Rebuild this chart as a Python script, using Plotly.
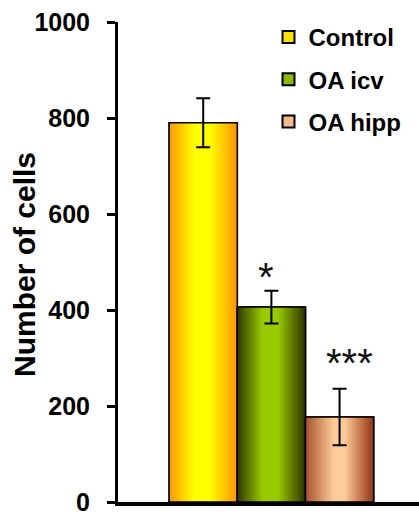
import plotly.graph_objects as go

# ---- data ----
categories = ["Control", "OA icv", "OA hipp"]
values = [790, 406, 177]
errors = [51, 34, 59]
sig_labels = ["", "*", "***"]
y_ticks = [0, 200, 400, 600, 800, 1000]
y_title = "Number of cells"

# ---- styles ----
FONT = "Liberation Sans, Arial, sans-serif"
gradient_stops = {
    "Control": [(0.0, (255, 150, 0)), (0.38, (255, 255, 0)), (0.6, (255, 255, 0)), (1.0, (255, 150, 0))],
    "OA icv": [(0.0, (48, 52, 0)), (0.38, (153, 204, 0)), (0.6, (153, 204, 0)), (1.0, (48, 52, 0))],
    "OA hipp": [(0.0, (165, 80, 45)), (0.42, (255, 204, 153)), (0.58, (255, 204, 153)), (1.0, (150, 55, 20))],
}
legend_colors = {"Control": "#FFE000", "OA icv": "#8DB800", "OA hipp": "#F2B88C"}
label_shift = {"OA icv": (-5, -10), "OA hipp": (10, 2)}
N_STRIPS = 40


def grad_color(stops, t):
    for (t0, c0), (t1, c1) in zip(stops[:-1], stops[1:]):
        if t0 <= t <= t1:
            f = 0 if t1 == t0 else (t - t0) / (t1 - t0)
            c = [round(a + (b - a) * f) for a, b in zip(c0, c1)]
            return "rgb({},{},{})".format(*c)
    c = stops[-1][1]
    return "rgb({},{},{})".format(*c)


fig = go.Figure()
for cat, val, err in zip(categories, values, errors):
    # legend entry (hidden under the gradient)
    fig.add_trace(go.Bar(
        x=[cat], y=[val], width=1, name=cat, legendgroup=cat,
        marker=dict(color=legend_colors[cat], line=dict(color="black", width=1.5)),
        hoverinfo="skip",
    ))
    # horizontal gradient fill made of thin strips
    step = 1.0 / N_STRIPS
    fig.add_trace(go.Bar(
        x=[cat] * N_STRIPS, y=[val] * N_STRIPS,
        width=[step * 1.6] * N_STRIPS,
        offset=[-0.5 + k * step - (0 if k == 0 else step * 0.3) for k in range(N_STRIPS)],
        marker=dict(color=[grad_color(gradient_stops[cat], (k + 0.5) * step) for k in range(N_STRIPS)],
                    line=dict(width=0)),
        showlegend=False, legendgroup=cat, hoverinfo="skip",
    ))
    # outline + error bar
    fig.add_trace(go.Bar(
        x=[cat], y=[val], width=1,
        marker=dict(color="rgba(0,0,0,0)", line=dict(color="black", width=1.5)),
        error_y=dict(type="data", array=[err], color="black", thickness=2, width=7),
        showlegend=False, legendgroup=cat,
    ))

for cat, val, err, lab in zip(categories, values, errors, sig_labels):
    if lab:
        dx, dy = label_shift[cat]
        fig.add_annotation(
            x=cat, y=val + err, text=lab, showarrow=False,
            yanchor="bottom", xshift=dx, yshift=dy,
            font=dict(family=FONT, size=40, color="#111111"),
        )

# y-axis title
fig.add_annotation(
    xref="paper", yref="paper", x=0, y=0.5, xanchor="center", yanchor="middle",
    xshift=-94, yshift=-3, textangle=-90, text=y_title, showarrow=False,
    font=dict(family=FONT, size=30, color="black", weight="bold"),
)

fig.update_layout(
    width=419, height=516,
    margin=dict(l=118, r=0, t=22, b=14),
    paper_bgcolor="white", plot_bgcolor="white",
    barmode="overlay",
    font=dict(family=FONT, color="black"),
    showlegend=True,
    legend=dict(
        x=0.50, y=1.0146, xanchor="left", yanchor="top",
        font=dict(family=FONT, size=24, color="black", weight="bold"),
        tracegroupgap=8, itemsizing="constant", bgcolor="rgba(0,0,0,0)",
    ),
)
fig.update_xaxes(
    range=[-1.25, 3.165], showticklabels=False, ticks="",
    showline=True, linecolor="black", linewidth=4, showgrid=False, zeroline=False,
)
fig.update_yaxes(
    range=[0, 1000], tickvals=y_ticks, ticks="outside", ticklen=8, tickwidth=3,
    tickcolor="black", showline=True, linecolor="black", linewidth=3,
    showgrid=False, zeroline=False, ticklabelstandoff=12,
    tickfont=dict(family=FONT, size=25, color="black", weight="bold"),
)

fig.write_html("out.html", config={"displayModeBar": False},
               post_script="document.body.style.margin='0px';")
